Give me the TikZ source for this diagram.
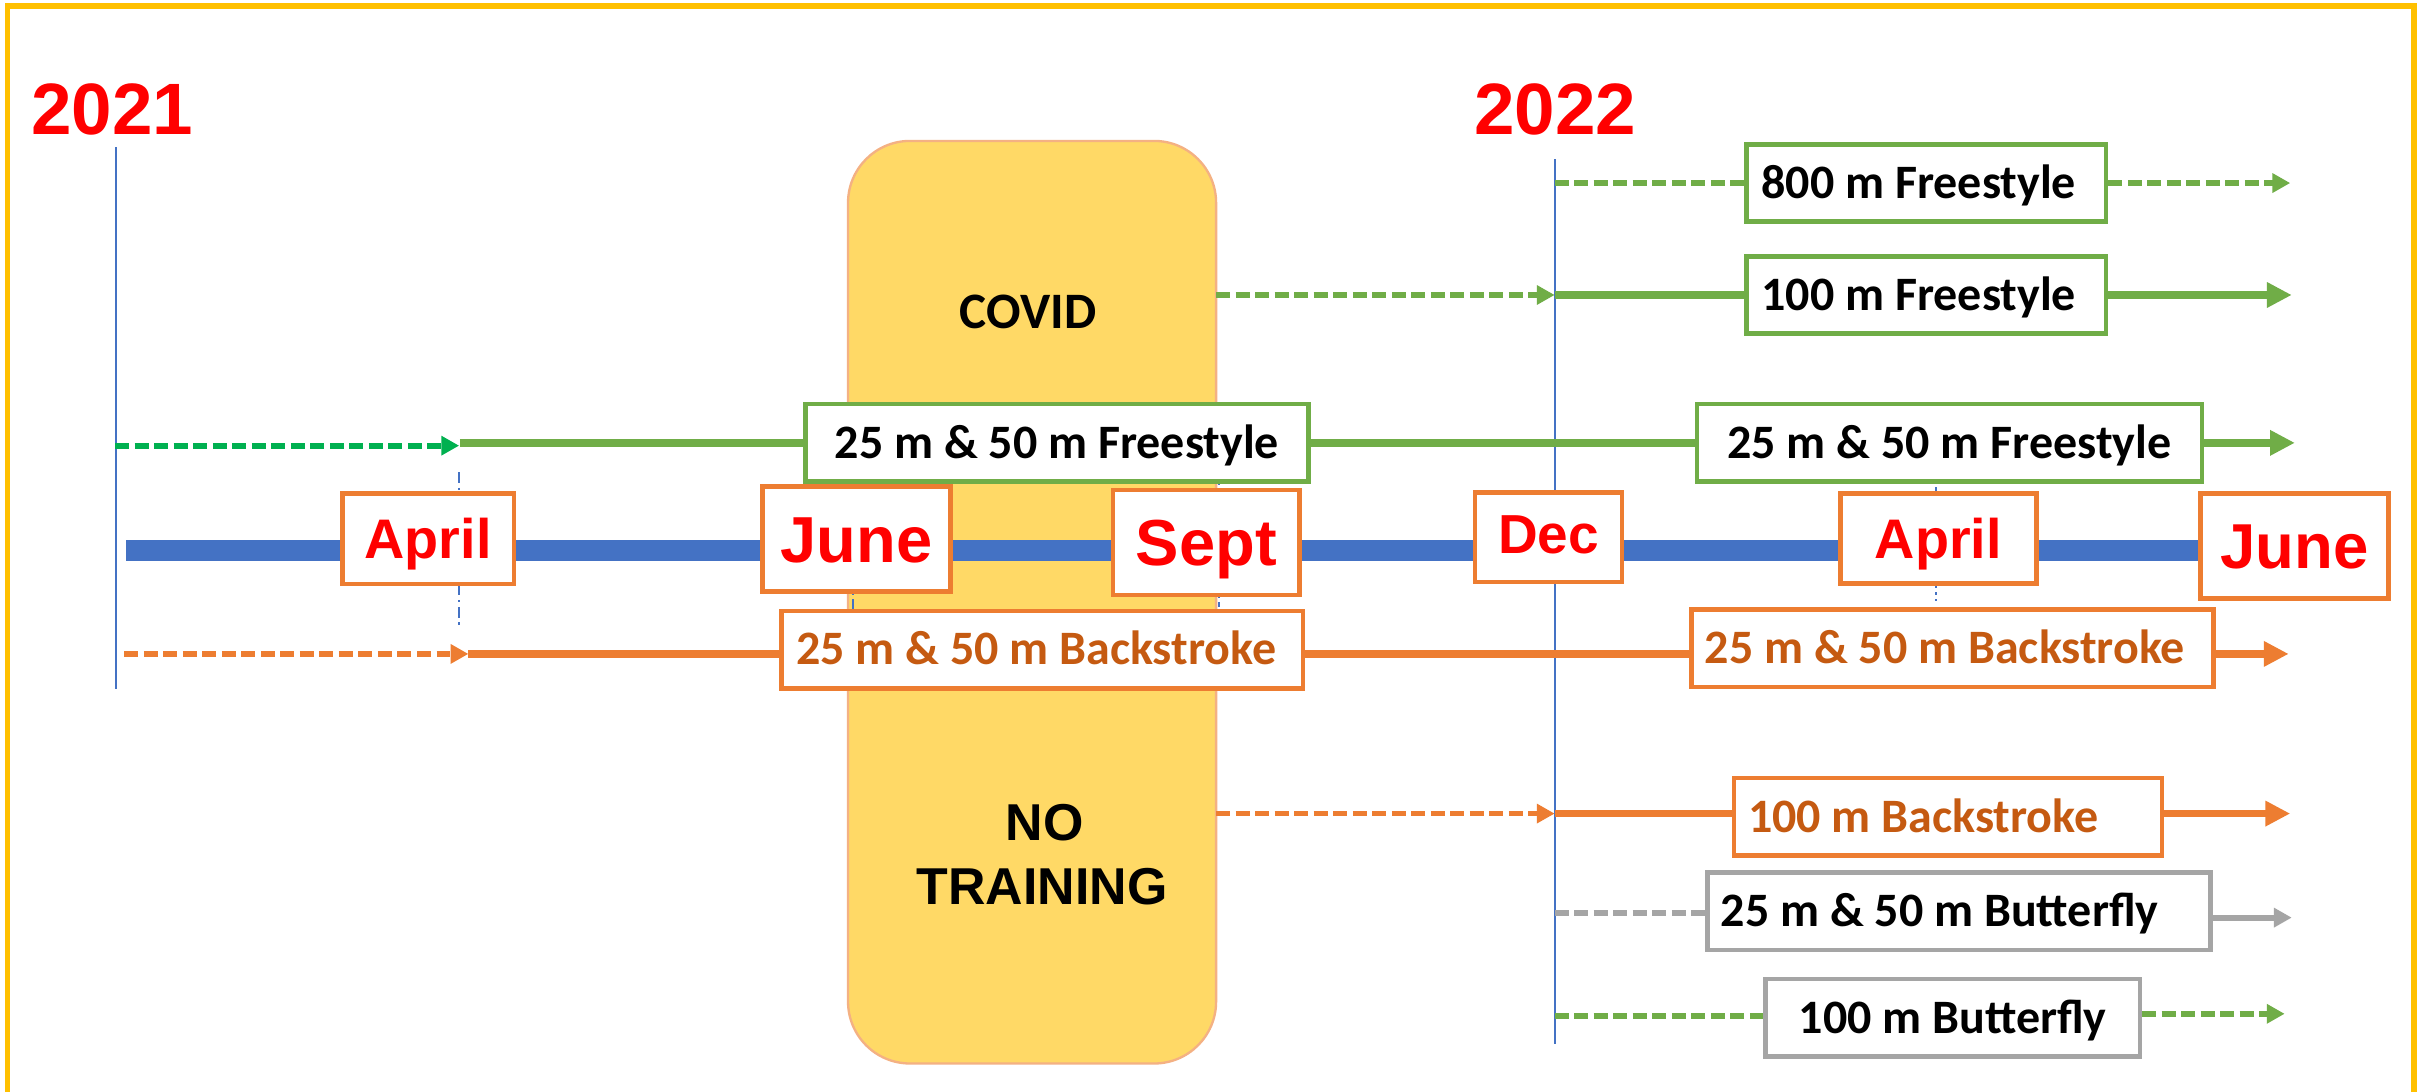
\documentclass[tikz,border=0pt]{standalone}
\usepackage{fontspec}
\setmainfont{Liberation Sans}
\newfontfamily\calib{Carlito}
\usetikzlibrary{arrows.meta}
\definecolor{cgold}{HTML}{FFC000}
\definecolor{cyel}{HTML}{FFD966}
\definecolor{cyeledge}{HTML}{F4B183}
\definecolor{cblue}{HTML}{4472C4}
\definecolor{corange}{HTML}{ED7D31}
\definecolor{cdorange}{HTML}{C55A11}
\definecolor{cgreen}{HTML}{70AD47}
\definecolor{cbgreen}{HTML}{00B050}
\definecolor{cgray}{HTML}{A5A5A5}
\definecolor{cred}{HTML}{FF0000}
\newcommand\setfs[1]{\fontsize{#1}{#1}\selectfont}
\begin{document}
\begin{tikzpicture}[x=1pt,y=-1pt,
  monthbox/.style={draw=corange, line width=3pt, fill=white, inner sep=0pt, text=cred, text depth=0pt},
  evbox/.style={draw=#1, line width=3pt, fill=white, inner ysep=0pt, minimum height=50pt, text height=19.6pt, text depth=0pt, font=\calib\bfseries\setfs{31}},
  dline/.style={line width=3.7pt, dash pattern=on 9pt off 3.6pt},
  sline/.style={line width=5pt},
  smalltip/.style={-{Triangle[length=11.5pt,width=12pt]}},
  bigtip/.style={-{Triangle[length=16pt,width=15.5pt]}},
  yline/.style={cblue, line width=1.5pt},
  tickline/.style={cblue, line width=1.4pt, dash pattern=on 7pt off 3pt on 1.5pt off 3pt},
  yeartxt/.style={text=cred, font=\bfseries\setfs{47}, text height=33.7pt, text depth=0pt, inner sep=0pt}
]
\useasboundingbox (0,0) rectangle (1568,704.6);
\fill[white] (0,0) rectangle (1568,704.6);
\draw[cgold, line width=3.5pt] (5,3.8) rectangle (1559,800);

% COVID block
\node[draw=cyeledge, fill=cyel, line width=1.5pt, rounded corners=40pt, minimum width=237.7pt, minimum height=595.8pt, inner sep=0pt] (covid) at (666.5,388.9) {};
\node[font=\calib\bfseries\setfs{33}, text height=20.9pt, text depth=0pt, inner sep=0pt] (covidtxt) at (664,201.8) {COVID};
\node[font=\bfseries\setfs{33.5}, text height=24pt, text depth=0pt, inner sep=0pt] (notxt) at (674.6,531) {NO};
\node[font=\bfseries\setfs{33.5}, text height=24pt, text depth=0pt, inner sep=0pt] (trainingtxt) at (673,572.3) {TRAINING};

% years
\node[yeartxt] (y2021) at (72.5,69.7) {2021};
\node[yeartxt] (y2022) at (1004.5,69.7) {2022};

% year lines
\coordinate (v21t) at (75,95);
\coordinate (v21b) at (75,445);
\coordinate (v22t) at (1004,103);
\coordinate (v22b) at (1004,674);
\draw[yline] (v21t) -- (v21b);
\draw[yline] (v22t) -- (v22b);

% month ticks
\coordinate (ta0) at (296.5,305); \coordinate (ta1) at (296.5,406);
\coordinate (tj0) at (551,300);   \coordinate (tj1) at (551,394);
\coordinate (ts0) at (787,302);   \coordinate (ts1) at (787,392);
\coordinate (tb0) at (1250.5,300); \coordinate (tb1) at (1250.5,388);
\draw[tickline] (ta0) -- (ta1);
\draw[tickline] (tj0) -- (tj1);
\draw[tickline] (ts0) -- (ts1);
\draw[tickline] (tb0) -- (tb1);

% timeline bar
\coordinate (tl0) at (81.5,355.5);
\coordinate (tl1) at (1480,355.5);
\draw[cblue, line width=13.6pt] (tl0) -- (tl1);

% months
\node[monthbox, minimum width=111pt, minimum height=58.5pt, font=\bfseries\setfs{36}, text height=25.8pt] (mapr1) at (276.5,348) {April};
\node[monthbox, minimum width=121.5pt, minimum height=68pt, font=\bfseries\setfs{42}, text height=30.1pt] (mjun1) at (553,348) {June};
\node[monthbox, minimum width=120.4pt, minimum height=67.8pt, font=\bfseries\setfs{42}, text height=30.1pt] (msep) at (779,350.3) {Sept};
\node[monthbox, minimum width=95pt, minimum height=57.8pt, font=\bfseries\setfs{35.5}, text height=25.4pt] (mdec) at (1000,347) {\raisebox{2.5pt}{Dec}};
\node[monthbox, minimum width=126.4pt, minimum height=58.4pt, font=\bfseries\setfs{36}, text height=25.8pt] (mapr2) at (1251.8,347.8) {April};
\node[monthbox, minimum width=121.6pt, minimum height=67.8pt, font=\bfseries\setfs{41}, text height=29.4pt] (mjun2) at (1481.8,352.5) {June};

% event boxes
\node[evbox=cgreen, minimum width=325pt] (fb1) at (682.5,286) {25 m \& 50 m Freestyle};
\node[evbox=cgreen, minimum width=326pt] (fb2) at (1259,286) {25 m \& 50 m Freestyle};
\node[evbox=cgreen, inner xsep=9.6pt] (b800) at (1244,118.2) {\makebox[212.8pt][l]{800 m Freestyle}};
\node[evbox=cgreen, inner xsep=9.6pt] (b100f) at (1244,190.5) {\makebox[212.8pt][l]{100 m Freestyle}};
\node[evbox=corange, text=cdorange, inner xsep=9.4pt] (bb1) at (673,419.6) {\makebox[317.9pt][l]{25 m \& 50 m Backstroke}};
\node[evbox=corange, text=cdorange, inner xsep=8.6pt] (bb2) at (1261,418.7) {\makebox[320.1pt][l]{25 m \& 50 m Backstroke}};
\node[evbox=corange, text=cdorange, inner xsep=9pt] (bb100) at (1258,527.5) {\makebox[258.2pt][l]{100 m Backstroke}};
\node[evbox=cgray, inner xsep=8.6pt] (bf25) at (1265,588.6) {\makebox[307.5pt][l]{25 m \& 50 m Butterfly}};
\node[evbox=cgray, minimum width=241.8pt] (bf100) at (1261,657.3) {100 m Butterfly};

% freestyle 25/50
\coordinate (f0) at (74.4,287.8);
\coordinate (f1) at (296.5,287.8);
\coordinate (f1s) at (297,286);
\coordinate (f2) at (1482,286);
\draw[dline, cbgreen, smalltip] (f0) -- (f1);
\draw[sline, cgreen] (f1s) -- (f1s -| fb1.west);
\draw[sline, cgreen] (fb1.east) -- (fb2.west);
\draw[sline, cgreen, bigtip] (fb2.east) -- (f2);

% 800 freestyle
\coordinate (e0) at (1004,118.2);
\coordinate (e1) at (1479,118.2);
\draw[dline, cgreen] (e0) -- (b800.west);
\draw[dline, cgreen, smalltip] (b800.east) -- (e1);

% 100 freestyle
\coordinate (q0) at (785.4,190.5);
\coordinate (q1) at (1004,190.5);
\coordinate (q2) at (1480,190.5);
\draw[dline, cgreen, smalltip] (q0) -- (q1);
\draw[sline, cgreen] (q1) -- (b100f.west);
\draw[sline, cgreen, bigtip] (b100f.east) -- (q2);

% backstroke 25/50
\coordinate (k0) at (80.3,422.3);
\coordinate (k1) at (302.5,422.3);
\coordinate (k2) at (1478,422.3);
\draw[dline, corange, smalltip] (k0) -- (k1);
\draw[sline, corange] (k1) -- (k1 -| bb1.west);
\draw[sline, corange] (bb1.east |- k1) -- (bb2.west |- k1);
\draw[sline, corange, bigtip] (bb2.east |- k1) -- (k2);

% 100 backstroke
\coordinate (r0) at (785.4,525.4);
\coordinate (r1) at (1004,525.4);
\coordinate (r2) at (1479,525.4);
\draw[dline, corange, smalltip] (r0) -- (r1);
\draw[sline, corange] (r1) -- (r1 -| bb100.west);
\draw[sline, corange, bigtip] (bb100.east |- r1) -- (r2);

% 25/50 butterfly
\coordinate (g0) at (1004,589.4);
\coordinate (g1) at (1480,592.6);
\draw[dline, cgray] (g0) -- (g0 -| bf25.west);
\draw[line width=3.7pt, cgray, smalltip] (bf25.east |- g1) -- (g1);

% 100 butterfly
\coordinate (h0) at (1004,655.9);
\coordinate (h1) at (1475.4,654.7);
\draw[dline, cgreen] (h0) -- (h0 -| bf100.west);
\draw[dline, cgreen, smalltip] (bf100.east |- h1) -- (h1);
\end{tikzpicture}
\end{document}
